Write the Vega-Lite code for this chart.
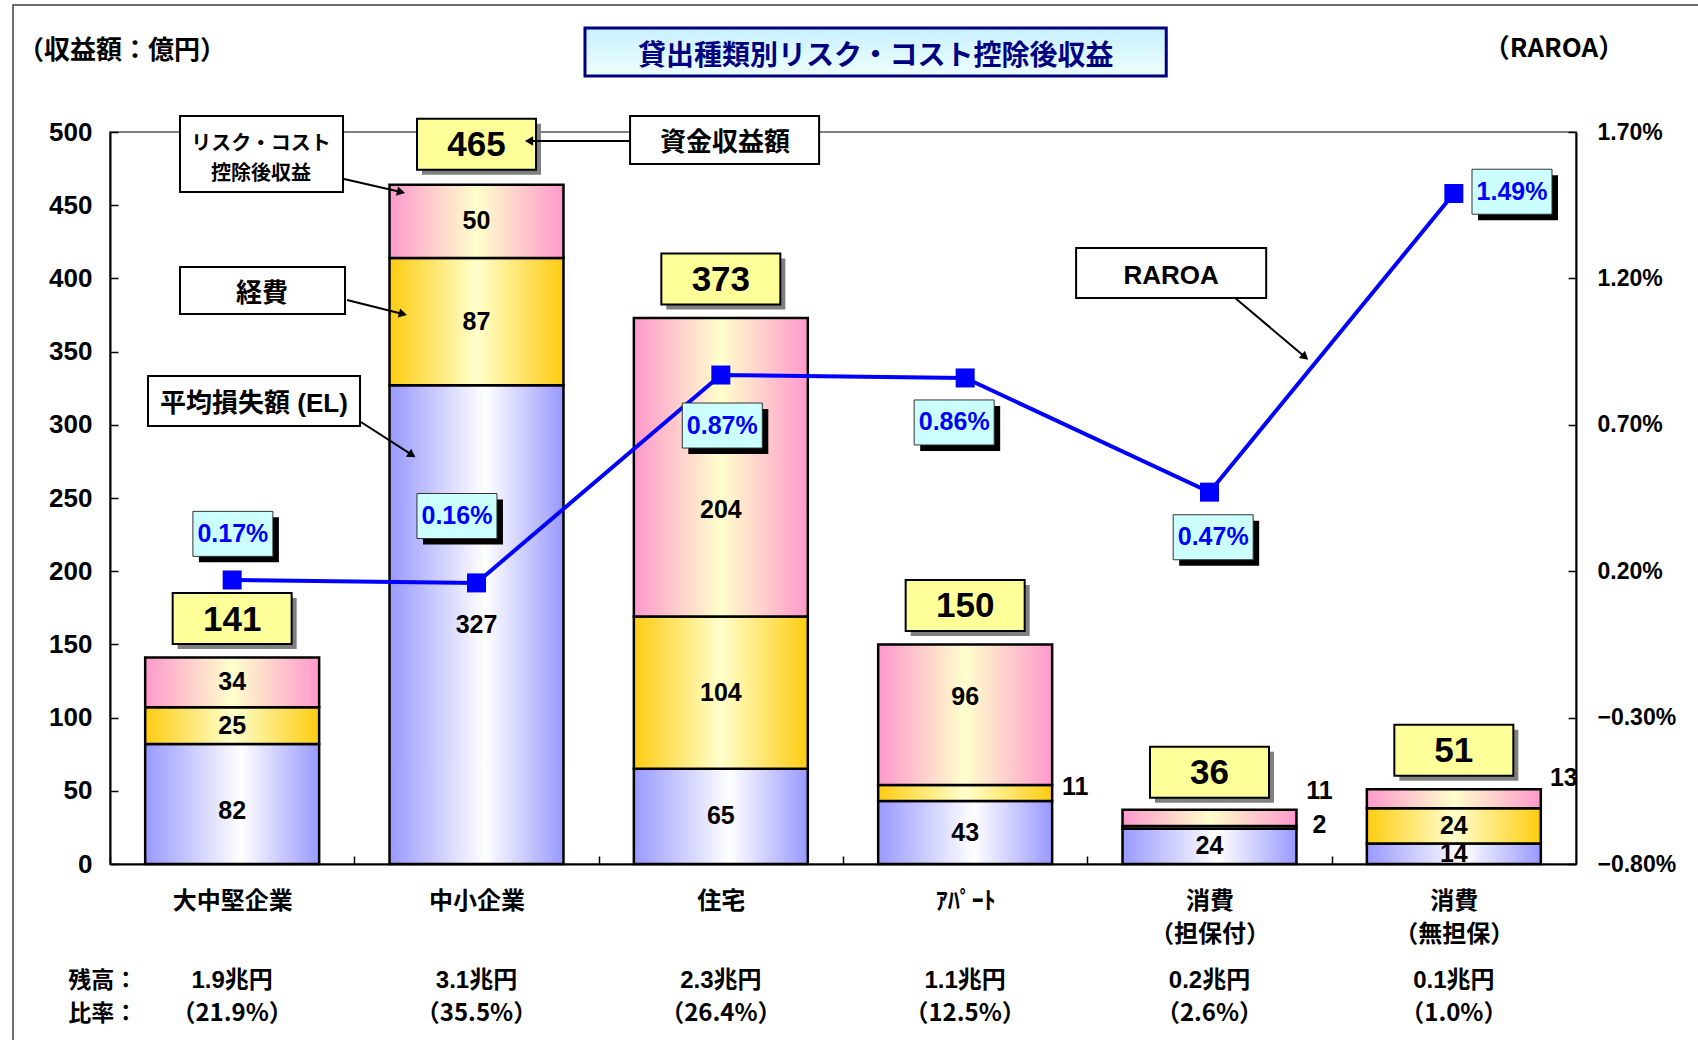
{
"$schema": "https://vega.github.io/schema/vega-lite/v6.json",
"width": 1466,
"height": 732,
"autosize": {"type": "none"},
"padding": {"left": 110, "top": 132, "right": 122, "bottom": 176},
"background": "white",
"config": {
  "font": "'Liberation Sans', 'Noto Sans CJK JP', sans-serif",
  "view": {"stroke": "#808080", "strokeWidth": 2},
  "axis": {"grid": false, "domainColor": "#000000", "domainWidth": 2, "tickColor": "#000000", "tickWidth": 1.5, "labelColor": "#000000", "labelFont": "'Liberation Sans', 'Noto Sans CJK JP', sans-serif", "labelFontWeight": "bold"},
  "text": {"font": "'Liberation Sans', 'Noto Sans CJK JP', sans-serif"}
},
"datasets": {
  "bars": [
    {"cat": "大中堅企業", "seg": "EL", "ord": 1, "v": 82, "ins": false},
    {"cat": "大中堅企業", "seg": "経費", "ord": 2, "v": 25, "ins": true},
    {"cat": "大中堅企業", "seg": "収益", "ord": 3, "v": 34, "ins": true},
    {"cat": "中小企業", "seg": "EL", "ord": 1, "v": 327, "ins": true},
    {"cat": "中小企業", "seg": "経費", "ord": 2, "v": 87, "ins": true},
    {"cat": "中小企業", "seg": "収益", "ord": 3, "v": 50, "ins": true},
    {"cat": "住宅", "seg": "EL", "ord": 1, "v": 65, "ins": true},
    {"cat": "住宅", "seg": "経費", "ord": 2, "v": 104, "ins": true},
    {"cat": "住宅", "seg": "収益", "ord": 3, "v": 204, "ins": false},
    {"cat": "ｱﾊﾟｰﾄ", "seg": "EL", "ord": 1, "v": 43, "ins": true},
    {"cat": "ｱﾊﾟｰﾄ", "seg": "経費", "ord": 2, "v": 11, "ins": false},
    {"cat": "ｱﾊﾟｰﾄ", "seg": "収益", "ord": 3, "v": 96, "ins": false},
    {"cat": "消費（担保付）", "seg": "EL", "ord": 1, "v": 24, "ins": true},
    {"cat": "消費（担保付）", "seg": "経費", "ord": 2, "v": 2, "ins": false},
    {"cat": "消費（担保付）", "seg": "収益", "ord": 3, "v": 11, "ins": false},
    {"cat": "消費（無担保）", "seg": "EL", "ord": 1, "v": 14, "ins": true},
    {"cat": "消費（無担保）", "seg": "経費", "ord": 2, "v": 24, "ins": true},
    {"cat": "消費（無担保）", "seg": "収益", "ord": 3, "v": 13, "ins": false}
  ],
  "outlabels": [
    {"cat": "ｱﾊﾟｰﾄ", "t": "11", "ly": 52.5},
    {"cat": "消費（担保付）", "t": "11", "ly": 49.6},
    {"cat": "消費（担保付）", "t": "2", "ly": 26.6},
    {"cat": "消費（無担保）", "t": "13", "ly": 59}
  ],
  "movedlabels": [
    {"cat": "大中堅企業", "t": "82", "ly": 36.2},
    {"cat": "住宅", "t": "204", "ly": 241.9},
    {"cat": "ｱﾊﾟｰﾄ", "t": "96", "ly": 113.9}
  ],
  "totals": [
    {"cat": "大中堅企業", "total": 141},
    {"cat": "中小企業", "total": 465},
    {"cat": "住宅", "total": 373},
    {"cat": "ｱﾊﾟｰﾄ", "total": 150},
    {"cat": "消費（担保付）", "total": 36},
    {"cat": "消費（無担保）", "total": 51}
  ],
  "bottom": [
    {"cat": "大中堅企業", "zan": "1.9兆円", "hi": "（21.9%）"},
    {"cat": "中小企業", "zan": "3.1兆円", "hi": "（35.5%）"},
    {"cat": "住宅", "zan": "2.3兆円", "hi": "（26.4%）"},
    {"cat": "ｱﾊﾟｰﾄ", "zan": "1.1兆円", "hi": "（12.5%）"},
    {"cat": "消費（担保付）", "zan": "0.2兆円", "hi": "（2.6%）"},
    {"cat": "消費（無担保）", "zan": "0.1兆円", "hi": "（1.0%）"}
  ],
  "raroa": [
    {"cat": "大中堅企業", "r": 0.17},
    {"cat": "中小企業", "r": 0.16},
    {"cat": "住宅", "r": 0.87},
    {"cat": "ｱﾊﾟｰﾄ", "r": 0.86},
    {"cat": "消費（担保付）", "r": 0.47},
    {"cat": "消費（無担保）", "r": 1.49}
  ],
  "frame": [{"x": -0.397, "x2": 7, "y": 586.7, "y2": -250}],
  "titlebox": [{"x": 1.944, "x2": 4.323, "y": 571.0, "y2": 538.3}],
  "titletext": [{"x": 3.134, "y": 551.0, "t": "貸出種類別リスク・コスト控除後収益"}],
  "headings": [
    {"x": 0.049, "y": 555.3, "t": "（収益額：億円）"},
    {"x": 5.91, "y": 556.7, "t": "（RAROA）"}
  ],
  "rowheads": [
    {"x": -0.03, "y": -80, "t": "残高："},
    {"x": -0.03, "y": -102.5, "t": "比率："}
  ],
  "boxes": [
    {"x": 0.2865, "x2": 0.9537, "y": 510.9, "y2": 459.0},
    {"x": 0.2865, "x2": 0.9619, "y": 407.8, "y2": 375.7},
    {"x": 0.1555, "x2": 1.0233, "y": 333.3, "y2": 299.2},
    {"x": 2.1285, "x2": 2.9022, "y": 510.9, "y2": 478.1},
    {"x": 3.954, "x2": 4.732, "y": 420.8, "y2": 386.6}
  ],
  "boxtext2": [{"x": 0.618, "y": 491.8, "t": ["リスク・コスト", "控除後収益"]}],
  "boxtext": [
    {"x": 0.622, "y": 389.2, "t": "経費"},
    {"x": 0.589, "y": 314.1, "t": "平均損失額 (EL)"},
    {"x": 2.517, "y": 492.3, "t": "資金収益額"},
    {"x": 4.343, "y": 401.5, "t": "RAROA"}
  ],
  "arrows": [
    {"x": 0.958, "y": 467.9, "x2": 1.191, "y2": 459.0, "a": 12.8},
    {"x": 0.970, "y": 385.2, "x2": 1.199, "y2": 375.7, "a": 14},
    {"x": 1.027, "y": 301.9, "x2": 1.236, "y2": 279.4, "a": 33},
    {"x": 2.129, "y": 493.9, "x2": 1.715, "y2": 493.9, "a": 180},
    {"x": 4.605, "y": 386.6, "x2": 4.891, "y2": 346.3, "a": 40}
  ],
  "rlabels": [
    {"x": 0.503, "y": 225.5, "t": "0.17%"},
    {"x": 1.420, "y": 237.7, "t": "0.16%"},
    {"x": 2.506, "y": 299.5, "t": "0.87%"},
    {"x": 3.455, "y": 301.6, "t": "0.86%"},
    {"x": 4.515, "y": 223.2, "t": "0.47%"},
    {"x": 5.738, "y": 459.2, "t": "1.49%"}
  ]
},
"resolve": {"scale": {"x": "independent", "y": "independent"}},
"layer": [
  {
    "data": {"name": "bars"},
    "layer": [
      {
        "mark": {"type": "bar", "stroke": "#000000", "strokeWidth": 2.5},
        "encoding": {
          "x": {"field": "cat", "type": "nominal", "sort": null,
                "scale": {"domain": ["大中堅企業", "中小企業", "住宅", "ｱﾊﾟｰﾄ", "消費（担保付）", "消費（無担保）"], "paddingInner": 0.288, "paddingOuter": 0.144},
                "axis": {"title": null, "labelAngle": 0, "labelFont": "'Noto Sans CJK JP', sans-serif", "labelFontSize": 24, "labelPadding": 33, "tickSize": -8, "tickOffset": -122.15, "labelOffset": 122.15, "labelLineHeight": 33, "labelBaseline": "top", "labelOverlap": false,
                         "labelExpr": "indexof(datum.value,'（') > 0 ? [slice(datum.value,0,indexof(datum.value,'（')), slice(datum.value,indexof(datum.value,'（'))] : datum.value"}},
          "y": {"field": "v", "type": "quantitative", "stack": "zero",
                "scale": {"domain": [0, 500], "nice": false},
                "axis": {"title": null, "values": [0, 50, 100, 150, 200, 250, 300, 350, 400, 450, 500], "labelFontSize": 26, "tickSize": -8, "labelPadding": 26}},
          "order": {"field": "ord", "type": "quantitative"},
          "fill": {
            "condition": [
              {"test": "datum.seg === 'EL'", "value": {"gradient": "linear", "x1": 0, "y1": 0, "x2": 1, "y2": 0, "stops": [{"offset": 0, "color": "#9999FF"}, {"offset": 0.55, "color": "#FFFFFF"}, {"offset": 1, "color": "#9999FF"}]}},
              {"test": "datum.seg === '経費'", "value": {"gradient": "linear", "x1": 0, "y1": 0, "x2": 1, "y2": 0, "stops": [{"offset": 0, "color": "#FFCC11"}, {"offset": 0.5, "color": "#FFFFCC"}, {"offset": 1, "color": "#FFCC11"}]}}
            ],
            "value": {"gradient": "linear", "x1": 0, "y1": 0, "x2": 1, "y2": 0, "stops": [{"offset": 0, "color": "#FF99CC"}, {"offset": 0.5, "color": "#FFFFCC"}, {"offset": 1, "color": "#FF99CC"}]}
          }
        }
      },
      {
        "mark": {"type": "text", "fontSize": 25, "fontWeight": "bold", "baseline": "middle", "color": "#000000"},
        "encoding": {
          "x": {"field": "cat", "type": "nominal", "sort": null},
          "y": {"field": "v", "type": "quantitative", "stack": "zero", "bandPosition": 0.5},
          "order": {"field": "ord", "type": "quantitative"},
          "text": {"field": "v", "type": "quantitative"},
          "opacity": {"condition": {"test": "datum.ins", "value": 1}, "value": 0}
        }
      },
      {
        "data": {"name": "movedlabels"},
        "mark": {"type": "text", "fontSize": 25, "fontWeight": "bold", "baseline": "middle", "color": "#000000"},
        "encoding": {
          "x": {"field": "cat", "type": "nominal", "sort": null},
          "y": {"field": "ly", "type": "quantitative"},
          "text": {"field": "t"}
        }
      },
      {
        "data": {"name": "outlabels"},
        "mark": {"type": "text", "fontSize": 25, "fontWeight": "bold", "baseline": "middle", "dx": 110, "color": "#000000"},
        "encoding": {
          "x": {"field": "cat", "type": "nominal", "sort": null},
          "y": {"field": "ly", "type": "quantitative"},
          "text": {"field": "t"}
        }
      },
      {
        "data": {"name": "totals"},
        "mark": {"type": "point", "shape": "M-1,-0.4286H1V0.4286H-1Z", "size": 14161, "filled": true, "fill": "#808080", "opacity": 1, "strokeWidth": 0, "xOffset": 5, "yOffset": -34},
        "encoding": {
          "x": {"field": "cat", "type": "nominal", "sort": null},
          "y": {"field": "total", "type": "quantitative"}
        }
      },
      {
        "data": {"name": "totals"},
        "mark": {"type": "point", "shape": "M-1,-0.4286H1V0.4286H-1Z", "size": 14161, "filled": true, "fill": "#FFFF99", "stroke": "#000000", "strokeWidth": 2, "opacity": 1, "yOffset": -39},
        "encoding": {
          "x": {"field": "cat", "type": "nominal", "sort": null},
          "y": {"field": "total", "type": "quantitative"}
        }
      },
      {
        "data": {"name": "totals"},
        "mark": {"type": "text", "fontSize": 35, "fontWeight": "bold", "baseline": "middle", "yOffset": -38, "color": "#000000"},
        "encoding": {
          "x": {"field": "cat", "type": "nominal", "sort": null},
          "y": {"field": "total", "type": "quantitative"},
          "text": {"field": "total", "type": "quantitative"}
        }
      },
      {
        "data": {"name": "bottom"},
        "mark": {"type": "text", "fontSize": 24, "fontWeight": "bold", "baseline": "middle", "color": "#000000"},
        "encoding": {
          "x": {"field": "cat", "type": "nominal", "sort": null},
          "y": {"datum": -80, "type": "quantitative"},
          "text": {"field": "zan"}
        }
      },
      {
        "data": {"name": "bottom"},
        "mark": {"type": "text", "font": "'Noto Sans CJK JP', sans-serif", "fontSize": 24, "fontWeight": "bold", "baseline": "middle", "color": "#000000"},
        "encoding": {
          "x": {"field": "cat", "type": "nominal", "sort": null},
          "y": {"datum": -102.5, "type": "quantitative"},
          "text": {"field": "hi"}
        }
      }
    ]
  },
  {
    "data": {"name": "raroa"},
    "encoding": {
      "x": {"field": "cat", "type": "nominal", "sort": null,
            "scale": {"type": "band", "domain": ["大中堅企業", "中小企業", "住宅", "ｱﾊﾟｰﾄ", "消費（担保付）", "消費（無担保）"], "paddingInner": 0.288, "paddingOuter": 0.144},
            "axis": null},
      "y": {"field": "r", "type": "quantitative",
            "scale": {"domain": [-0.8, 1.7], "nice": false, "zero": false},
            "axis": {"orient": "right", "title": null, "values": [-0.8, -0.3, 0.2, 0.7, 1.2, 1.7], "labelExpr": "format(datum.value, '.2f') + '%'", "labelFontSize": 23, "tickSize": -8, "labelPadding": 29}}
    },
    "layer": [
      {"mark": {"type": "line", "color": "#0000FF", "strokeWidth": 4}, "encoding": {}},
      {"mark": {"type": "point", "shape": "square", "size": 361, "filled": true, "color": "#0000FF", "opacity": 1}, "encoding": {}}
    ]
  },
  {
    "encoding": {
      "x": {"field": "x", "type": "quantitative", "scale": {"domain": [0, 6], "nice": false, "zero": false}, "axis": null},
      "y": {"field": "y", "type": "quantitative", "scale": {"domain": [0, 500], "nice": false, "zero": false}, "axis": null}
    },
    "layer": [
      {
        "data": {"name": "frame"},
        "mark": {"type": "rect", "fill": "transparent", "stroke": "#404040", "strokeWidth": 1.5},
        "encoding": {"x2": {"field": "x2"}, "y2": {"field": "y2"}}
      },
      {
        "data": {"name": "titlebox"},
        "mark": {"type": "rect", "stroke": "#000080", "strokeWidth": 3,
                 "fill": {"gradient": "linear", "x1": 0, "y1": 0, "x2": 0, "y2": 1, "stops": [{"offset": 0, "color": "#C8F0FF"}, {"offset": 1, "color": "#EEFFFF"}]}},
        "encoding": {"x2": {"field": "x2"}, "y2": {"field": "y2"}}
      },
      {
        "data": {"name": "titletext"},
        "mark": {"type": "text", "fontSize": 28, "fontWeight": "bold", "color": "#000080", "baseline": "middle"},
        "encoding": {"text": {"field": "t"}}
      },
      {
        "data": {"name": "headings"},
        "mark": {"type": "text", "font": "'Noto Sans CJK JP', sans-serif", "fontSize": 26, "fontWeight": "bold", "color": "#000000", "baseline": "middle"},
        "encoding": {"text": {"field": "t"}}
      },
      {
        "data": {"name": "rowheads"},
        "mark": {"type": "text", "font": "'Noto Sans CJK JP', sans-serif", "fontSize": 23, "fontWeight": "bold", "color": "#000000", "baseline": "middle"},
        "encoding": {"text": {"field": "t"}}
      },
      {
        "data": {"name": "boxes"},
        "mark": {"type": "rect", "fill": "#FFFFFF", "stroke": "#000000", "strokeWidth": 2},
        "encoding": {"x2": {"field": "x2"}, "y2": {"field": "y2"}}
      },
      {
        "data": {"name": "boxtext2"},
        "mark": {"type": "text", "fontSize": 20, "fontWeight": "bold", "color": "#000000", "baseline": "middle", "lineHeight": 30},
        "encoding": {"text": {"field": "t"}}
      },
      {
        "data": {"name": "boxtext"},
        "mark": {"type": "text", "fontSize": 26, "fontWeight": "bold", "color": "#000000", "baseline": "middle"},
        "encoding": {"text": {"field": "t"}}
      },
      {
        "data": {"name": "arrows"},
        "mark": {"type": "rule", "color": "#000000", "strokeWidth": 2},
        "encoding": {"x2": {"field": "x2"}, "y2": {"field": "y2"}}
      },
      {
        "data": {"name": "arrows"},
        "mark": {"type": "point", "shape": "triangle-right", "size": 90, "filled": true, "color": "#000000", "opacity": 1},
        "encoding": {
          "x": {"field": "x2", "type": "quantitative"},
          "y": {"field": "y2", "type": "quantitative"},
          "angle": {"field": "a", "type": "quantitative", "scale": null}
        }
      },
      {
        "data": {"name": "rlabels"},
        "mark": {"type": "point", "shape": "M-1,-0.5625H1V0.5625H-1Z", "size": 6400, "filled": true, "fill": "#000000", "opacity": 1, "strokeWidth": 0, "xOffset": 6, "yOffset": 6},
        "encoding": {}
      },
      {
        "data": {"name": "rlabels"},
        "mark": {"type": "point", "shape": "M-1,-0.5625H1V0.5625H-1Z", "size": 6400, "filled": true, "fill": "#CCFFFF", "stroke": "#333333", "strokeWidth": 1, "opacity": 1},
        "encoding": {}
      },
      {
        "data": {"name": "rlabels"},
        "mark": {"type": "text", "fontSize": 25, "fontWeight": "bold", "color": "#0000FF", "baseline": "middle"},
        "encoding": {"text": {"field": "t"}}
      }
    ]
  }
]
}
